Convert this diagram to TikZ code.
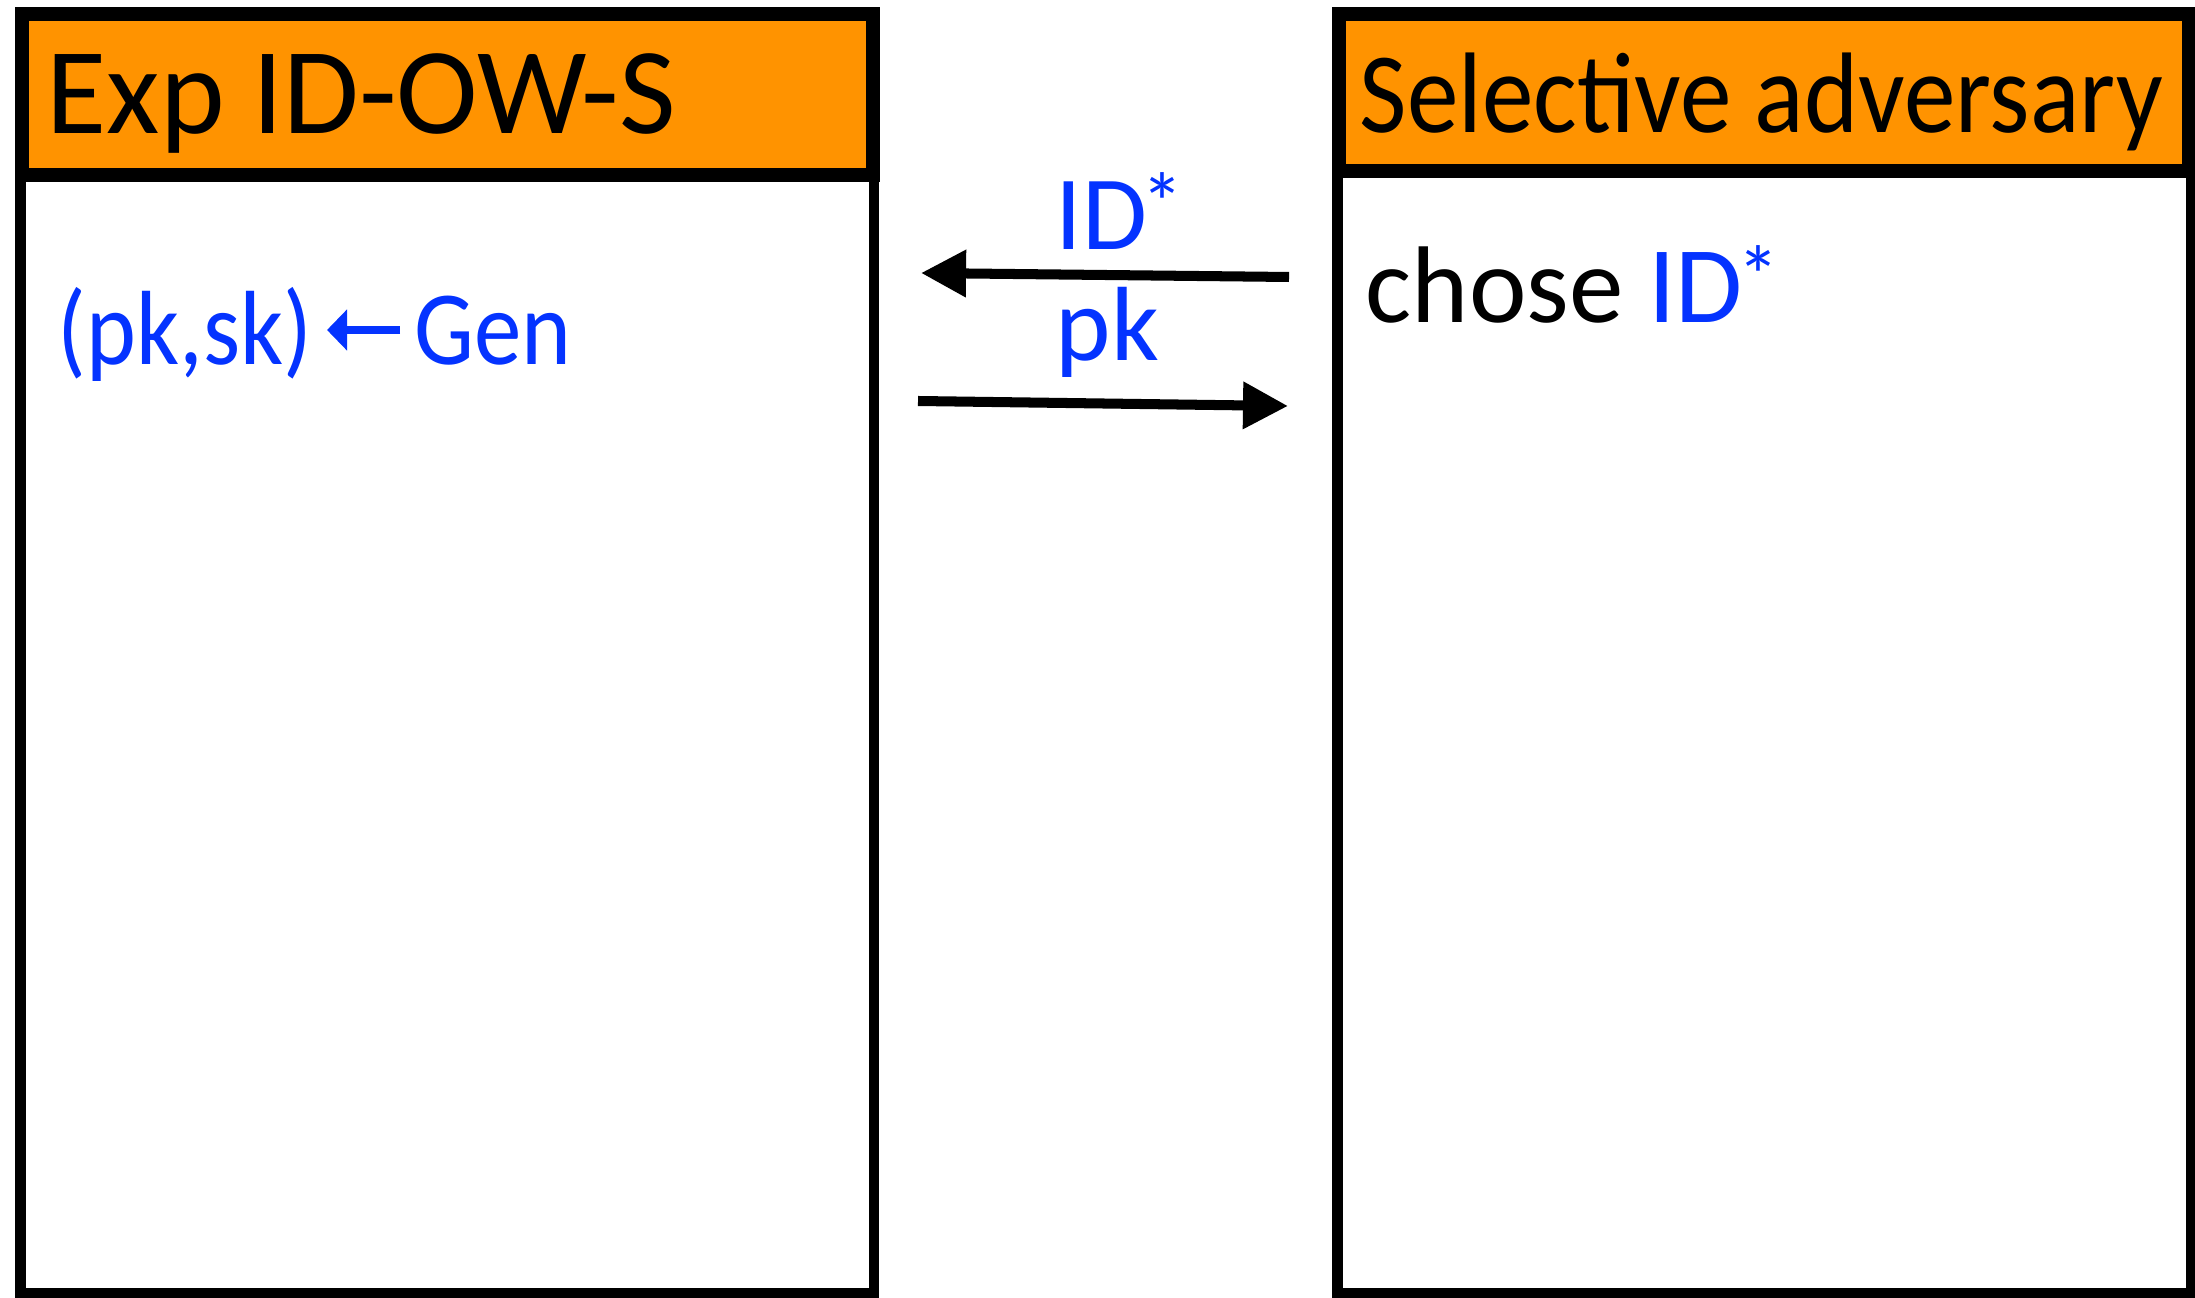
\documentclass[tikz,border=0pt]{standalone}
\usepackage{fontspec}
\setmainfont{Carlito}
\newfontfamily\narrowfont[FakeStretch=0.9]{Carlito}
\usetikzlibrary{arrows.meta}
\definecolor{keyorange}{RGB}{255,147,0}
\definecolor{keyblue}{RGB}{4,51,255}
\tikzset{>={Triangle[length=12.8pt,width=12.8pt]}}
\newcommand{\idstar}{ID\kern-1.5pt\raisebox{5pt}{\fontsize{24}{24}\selectfont *}}

\begin{document}
\begin{tikzpicture}[x=0.01cm, y=-0.01cm,
  panel/.style={draw, line width=3.1pt, rectangle, inner sep=0pt, anchor=north west},
  head/.style={draw, fill=keyorange, line width=4pt, rectangle, inner sep=0pt, anchor=north west},
  title/.style={anchor=base west, inner sep=0pt, font=\fontsize{35}{40}\selectfont},
  txt/.style={anchor=base west, inner sep=0pt, font=\fontsize{30}{36}\selectfont},
  msg/.style={->, line width=2.85pt}]
\useasboundingbox (0,0) rectangle (2195,1298);
\node[panel, minimum width=8.53cm, minimum height=11.17cm] (expBody) at (15,170.5) {};
\node[head, minimum width=8.5cm, minimum height=1.61cm] (expHead) at (15,7) {};
\node[panel, minimum width=8.53cm, minimum height=11.22cm] (advBody) at (1332,165.5) {};
\node[head, minimum width=8.49cm, minimum height=1.57cm] (advHead) at (1332,7) {};
\node[title] (expTitle) at (46,134) {Exp ID-OW-S};
\node[title, font=\fontsize{32.6}{40}\narrowfont] (advTitle) at (1359,133) {Selective adversary};
\node[txt, text=keyblue, font=\fontsize{30}{36}\narrowfont] (pksk) at (57,365) {(pk,sk)};
\node[txt, text=keyblue, font=\fontsize{30}{36}\narrowfont] (gen) at (414,365) {Gen};
\draw[keyblue, line width=2pt, -{Triangle[length=5.7pt,width=11.4pt]}]
  ([shift={(-14,-35)}]gen.base west) -- ([shift={(14,-35)}]pksk.base east);
\node[txt, font=\fontsize{31}{36}\selectfont] (choseLine) at (1365,323) {chose \textcolor{keyblue}{\idstar}};
\coordinate (idFrom) at (1289,277);
\coordinate (idTo) at (921,273);
\coordinate (pkFrom) at (918,401);
\coordinate (pkTo) at (1288,406);
\draw[msg] (idFrom) -- (idTo);
\draw[msg] (pkFrom) -- (pkTo);
\node[txt, text=keyblue] (idLabel) at (1055,250) {\idstar};
\node[txt, text=keyblue] (pkLabel) at (1055,361) {pk};
\end{tikzpicture}
\end{document}
